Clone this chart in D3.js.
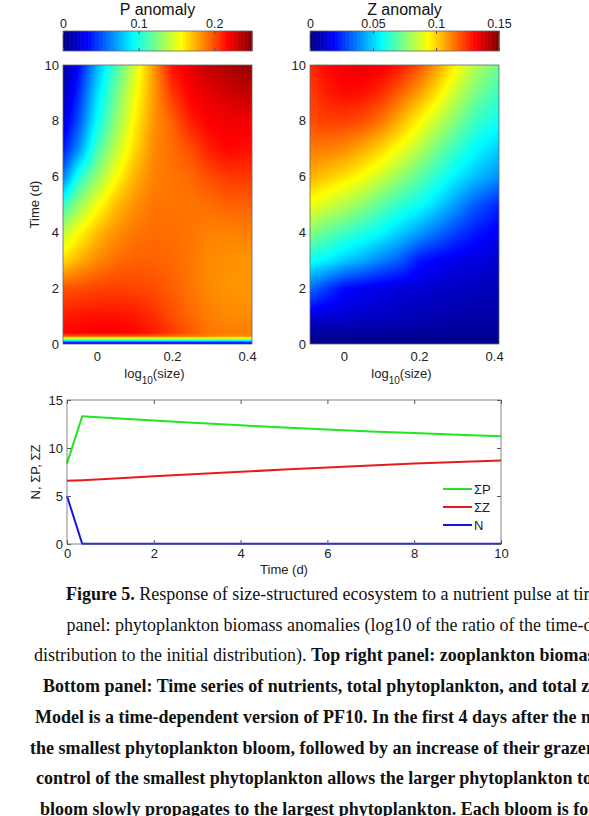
<!DOCTYPE html>
<html>
<head>
<meta charset="utf-8">
<script src="https://cdn.jsdelivr.net/npm/d3@7"></script>
<style>
  body { margin: 0; background: #fff; }
  svg { display: block; }
  .ax text { font-family: "Liberation Sans", Arial, sans-serif; font-size: 13px; fill: #222; }
  .ax line, .ax path { stroke: #555; }
  .cb text { font-size: 12.5px; }
</style>
</head>
<body>
<svg id="fig"></svg>
<script>
// ---- data ----
// log10(size) columns shared by both heatmaps
const sizeCols = [-0.09, -0.05, 0, 0.05, 0.1, 0.15, 0.2, 0.25, 0.3, 0.35, 0.413];

// P anomaly, rows by time (d)
const pTimes = [0, 0.05, 0.12, 0.2, 0.28, 0.4, 1, 2, 3, 4, 5, 6, 7, 8, 9, 10];
const pAnomaly = [
  [0.012, 0.012, 0.012, 0.012, 0.012, 0.012, 0.012, 0.012, 0.012, 0.012, 0.012],
  [0.035, 0.035, 0.035, 0.035, 0.035, 0.035, 0.035, 0.035, 0.035, 0.035, 0.035],
  [0.09, 0.09, 0.09, 0.09, 0.09, 0.09, 0.09, 0.09, 0.09, 0.09, 0.09],
  [0.15, 0.15, 0.15, 0.15, 0.15, 0.15, 0.15, 0.15, 0.15, 0.15, 0.15],
  [0.195, 0.195, 0.195, 0.195, 0.195, 0.193, 0.19, 0.188, 0.186, 0.185, 0.185],
  [0.218, 0.219, 0.22, 0.22, 0.218, 0.213, 0.205, 0.197, 0.19, 0.188, 0.188],
  [0.212, 0.214, 0.215, 0.215, 0.213, 0.208, 0.2, 0.193, 0.188, 0.185, 0.185],
  [0.198, 0.2, 0.202, 0.203, 0.202, 0.2, 0.196, 0.19, 0.185, 0.182, 0.182],
  [0.165, 0.175, 0.185, 0.192, 0.195, 0.195, 0.193, 0.19, 0.185, 0.183, 0.182],
  [0.14, 0.156, 0.172, 0.183, 0.19, 0.192, 0.192, 0.19, 0.187, 0.187, 0.188],
  [0.105, 0.13, 0.153, 0.172, 0.183, 0.19, 0.19, 0.19, 0.192, 0.195, 0.195],
  [0.06, 0.1, 0.13, 0.155, 0.175, 0.187, 0.19, 0.193, 0.2, 0.205, 0.205],
  [0.035, 0.065, 0.11, 0.14, 0.165, 0.185, 0.192, 0.2, 0.212, 0.218, 0.215],
  [0.02, 0.05, 0.094, 0.128, 0.158, 0.182, 0.195, 0.212, 0.22, 0.222, 0.222],
  [0.012, 0.04, 0.085, 0.12, 0.152, 0.18, 0.205, 0.22, 0.225, 0.23, 0.235],
  [0.008, 0.03, 0.075, 0.11, 0.145, 0.18, 0.215, 0.225, 0.235, 0.24, 0.245]
];

// Z anomaly, rows by time (d)
const zTimes = [0, 0.5, 1, 2, 3, 4, 5, 6, 7, 8, 9, 10];
const zAnomaly = [
  [0.001, 0.001, 0.001, 0.001, 0.001, 0.001, 0.001, 0.001, 0.001, 0.001, 0.001],
  [0.006, 0.006, 0.006, 0.0055, 0.005, 0.005, 0.0045, 0.0045, 0.004, 0.004, 0.004],
  [0.014, 0.013, 0.012, 0.011, 0.01, 0.009, 0.008, 0.007, 0.0065, 0.006, 0.006],
  [0.035, 0.028, 0.02, 0.017, 0.015, 0.013, 0.012, 0.011, 0.01, 0.009, 0.008],
  [0.058, 0.055, 0.049, 0.044, 0.038, 0.032, 0.022, 0.018, 0.015, 0.014, 0.012],
  [0.076, 0.071, 0.066, 0.061, 0.056, 0.049, 0.042, 0.035, 0.028, 0.022, 0.017],
  [0.092, 0.088, 0.083, 0.077, 0.07, 0.063, 0.058, 0.05, 0.041, 0.032, 0.024],
  [0.105, 0.102, 0.098, 0.093, 0.086, 0.078, 0.07, 0.062, 0.054, 0.047, 0.04],
  [0.113, 0.113, 0.111, 0.106, 0.1, 0.092, 0.083, 0.073, 0.064, 0.056, 0.049],
  [0.12, 0.122, 0.122, 0.12, 0.114, 0.105, 0.095, 0.085, 0.075, 0.065, 0.058],
  [0.122, 0.127, 0.13, 0.129, 0.125, 0.117, 0.108, 0.097, 0.085, 0.074, 0.065],
  [0.125, 0.13, 0.133, 0.135, 0.133, 0.128, 0.12, 0.108, 0.094, 0.083, 0.072]
];

const pTicks = [0, 0.1, 0.2];
const zTicks = [0, 0.05, 0.1, 0.15];
const sizeTicks = [0, 0.2, 0.4];
const timeTicks = [0, 2, 4, 6, 8, 10];

// bottom panel time series
const seriesTime = [0, 0.35, 1, 2, 3, 4, 5, 6, 7, 8, 9, 10];
const sumP = [8.4, 13.3, 13.13, 12.87, 12.6, 12.36, 12.13, 11.92, 11.72, 11.55, 11.38, 11.22];
const sumZ = [6.6, 6.65, 6.8, 7.05, 7.3, 7.52, 7.75, 7.97, 8.18, 8.38, 8.55, 8.7];
const nutrient = [5.0, 0.03, 0.03, 0.03, 0.03, 0.03, 0.03, 0.03, 0.03, 0.03, 0.03, 0.03];
const seriesNames = ["\u03A3P", "\u03A3Z", "N"];
const seriesColors = ["#22e622", "#e61c1c", "#1414e6"];

const captionLines = [
  [["Figure 5.", true], [" Response of size-structured ecosystem to a nutrient pulse at time 0. Top left", false]],
  [["panel: phytoplankton biomass anomalies (log10 of the ratio of the time-dependent", false]],
  [["distribution to the initial distribution). ", false], ["Top right panel: zooplankton biomass anomalies.", true]],
  [["Bottom panel: Time series of nutrients, total phytoplankton, and total zooplankton.", true]],
  [["Model is a time-dependent version of PF10. In the first 4 days after the nutrient pulse,", true]],
  [["the smallest phytoplankton bloom, followed by an increase of their grazers. The grazer", true]],
  [["control of the smallest phytoplankton allows the larger phytoplankton to bloom. The", true]],
  [["bloom slowly propagates to the largest phytoplankton. Each bloom is followed by", true]]
];

// ---- layout ----
const W = 589, H = 816;
const svg = d3.select("#fig").attr("width", W).attr("height", H);
svg.append("rect").attr("width", W).attr("height", H).attr("fill", "#fff");

function jet(v) {
  const c = x => Math.max(0, Math.min(1, x));
  const r = c(1.5 - Math.abs(4 * v - 3));
  const g = c(1.5 - Math.abs(4 * v - 2));
  const b = c(1.5 - Math.abs(4 * v - 1));
  return d3.rgb(r * 255, g * 255, b * 255);
}

function sampleGrid(cols, rows, grid, s, t) {
  let i = Math.max(0, Math.min(cols.length - 2, d3.bisectRight(cols, s) - 1));
  let j = Math.max(0, Math.min(rows.length - 2, d3.bisectRight(rows, t) - 1));
  const fx = Math.max(0, Math.min(1, (s - cols[i]) / (cols[i + 1] - cols[i])));
  const fy = Math.max(0, Math.min(1, (t - rows[j]) / (rows[j + 1] - rows[j])));
  const a = grid[j][i] * (1 - fx) + grid[j][i + 1] * fx;
  const b = grid[j + 1][i] * (1 - fx) + grid[j + 1][i + 1] * fx;
  return a * (1 - fy) + b * fy;
}

function heatPanel(cfg) {
  const { left, right, top, bottom, rows, grid, vmax, ticks, title, yLabel } = cfg;
  const x = d3.scaleLinear().domain([-0.09, 0.413]).range([left, right]);
  const y = d3.scaleLinear().domain([0, 10]).range([bottom, top]);
  const color = d3.scaleSequential(jet).domain([0, vmax]).clamp(true);

  // heatmap image
  const w = Math.round(right - left), h = Math.round(bottom - top);
  const canvas = document.createElement("canvas");
  canvas.width = w; canvas.height = h;
  const ctx = canvas.getContext("2d");
  const img = ctx.createImageData(w, h);
  for (let py = 0; py < h; py++) {
    const t = y.invert(top + py + 0.5);
    for (let px = 0; px < w; px++) {
      const s = x.invert(left + px + 0.5);
      const c = color(sampleGrid(sizeCols, rows, grid, s, t));
      const k = (py * w + px) * 4;
      img.data[k] = c.r; img.data[k + 1] = c.g; img.data[k + 2] = c.b; img.data[k + 3] = 255;
    }
  }
  ctx.putImageData(img, 0, 0);
  svg.append("image")
    .attr("x", left).attr("y", top)
    .attr("width", w).attr("height", h)
    .attr("preserveAspectRatio", "none")
    .attr("href", canvas.toDataURL());

  svg.append("rect")
    .attr("x", left).attr("y", top)
    .attr("width", right - left).attr("height", bottom - top)
    .attr("fill", "none").attr("stroke", "#666").attr("stroke-width", 0.8);

  const xAxis = svg.append("g").attr("class", "ax")
    .attr("transform", `translate(0,${bottom})`)
    .call(d3.axisBottom(x).tickValues(sizeTicks).tickFormat(d3.format("")).tickSize(0).tickPadding(8));
  xAxis.select(".domain").remove();

  const yAxis = svg.append("g").attr("class", "ax")
    .attr("transform", `translate(${left},0)`)
    .call(d3.axisLeft(y).tickValues(timeTicks).tickSize(0).tickPadding(4));
  yAxis.select(".domain").remove();

  const xl = svg.append("text")
    .attr("x", (left + right) / 2 - 3).attr("y", bottom + 34)
    .attr("text-anchor", "middle")
    .attr("font-family", "Liberation Sans, Arial, sans-serif")
    .attr("font-size", 13).attr("fill", "#222");
  xl.append("tspan").text("log");
  xl.append("tspan").attr("dy", 6).attr("font-size", 10).text("10");
  xl.append("tspan").attr("dy", -6).text("(size)");

  if (yLabel) {
    svg.append("text")
      .attr("transform", `translate(${left - 24},${(top + bottom) / 2}) rotate(-90)`)
      .attr("text-anchor", "middle")
      .attr("font-family", "Liberation Sans, Arial, sans-serif")
      .attr("font-size", 13).attr("fill", "#222")
      .text(yLabel);
  }

  // colorbar
  const cbTop = 31, cbBottom = 51;
  const cx = d3.scaleLinear().domain([0, vmax]).range([left, right]);
  const step = vmax / 240;
  svg.append("g").selectAll("rect")
    .data(d3.range(0, vmax, step))
    .join("rect")
    .attr("x", d => cx(d))
    .attr("y", cbTop)
    .attr("width", cx(step) - cx(0) + 0.6)
    .attr("height", cbBottom - cbTop)
    .attr("fill", d => color(d + step / 2));
  svg.append("rect")
    .attr("x", left).attr("y", cbTop)
    .attr("width", right - left).attr("height", cbBottom - cbTop)
    .attr("fill", "none").attr("stroke", "#666").attr("stroke-width", 0.8);

  const cbAxis = svg.append("g").attr("class", "ax cb")
    .attr("transform", `translate(0,${cbTop})`)
    .call(d3.axisTop(cx).tickValues(ticks).tickFormat(d3.format("")).tickSize(-3).tickPadding(3));
  cbAxis.select(".domain").remove();
  svg.append("g").attr("class", "ax")
    .attr("transform", `translate(0,${cbBottom})`)
    .call(d3.axisBottom(cx).tickValues(ticks).tickSize(-3).tickFormat(""))
    .select(".domain").remove();

  svg.append("text")
    .attr("x", (left + right) / 2).attr("y", 15)
    .attr("text-anchor", "middle")
    .attr("font-family", "Liberation Sans, Arial, sans-serif")
    .attr("font-size", 16).attr("fill", "#111")
    .text(title);
}

heatPanel({ left: 63, right: 252, top: 65, bottom: 344, rows: pTimes, grid: pAnomaly,
            vmax: 0.25, ticks: pTicks, title: "P anomaly", yLabel: "Time (d)" });
heatPanel({ left: 310, right: 499, top: 65, bottom: 344, rows: zTimes, grid: zAnomaly,
            vmax: 0.15, ticks: zTicks, title: "Z anomaly", yLabel: null });

// ---- bottom time series ----
const bl = 67, br = 501, bt = 400, bb = 544;
const tx = d3.scaleLinear().domain([0, 10]).range([bl, br]);
const ty = d3.scaleLinear().domain([0, 15]).range([bb, bt]);

const g = svg.append("g");
g.append("rect").attr("x", bl).attr("y", bt).attr("width", br - bl).attr("height", bb - bt)
  .attr("fill", "#fff");

const series = [sumP, sumZ, nutrient].map((vals, k) => ({
  name: seriesNames[k], color: seriesColors[k],
  points: vals.map((v, i) => [seriesTime[i], v])
}));

const line = d3.line().x(d => tx(d[0])).y(d => ty(d[1]));
g.selectAll(".series")
  .data(series)
  .join("path")
  .attr("class", "series")
  .attr("fill", "none")
  .attr("stroke", d => d.color)
  .attr("stroke-width", 2)
  .attr("stroke-linejoin", "round")
  .attr("d", d => line(d.points));

const bx = g.append("g").attr("class", "ax").attr("transform", `translate(0,${bb})`)
  .call(d3.axisBottom(tx).tickValues(timeTicks).tickSize(-4).tickPadding(5));
bx.select(".domain").remove();
g.append("g").attr("class", "ax").attr("transform", `translate(0,${bt})`)
  .call(d3.axisTop(tx).tickValues(timeTicks).tickSize(-4).tickFormat(""))
  .select(".domain").remove();
const by = g.append("g").attr("class", "ax").attr("transform", `translate(${bl},0)`)
  .call(d3.axisLeft(ty).tickValues([0, 5, 10, 15]).tickSize(-4).tickPadding(4));
by.select(".domain").remove();
g.append("g").attr("class", "ax").attr("transform", `translate(${br},0)`)
  .call(d3.axisRight(ty).tickValues([0, 5, 10, 15]).tickSize(-4).tickFormat(""))
  .select(".domain").remove();

g.append("rect").attr("x", bl).attr("y", bt).attr("width", br - bl).attr("height", bb - bt)
  .attr("fill", "none").attr("stroke", "#666").attr("stroke-width", 0.8);

g.append("text")
  .attr("x", (bl + br) / 2).attr("y", bb + 30)
  .attr("text-anchor", "middle")
  .attr("font-family", "Liberation Sans, Arial, sans-serif")
  .attr("font-size", 13).attr("fill", "#222")
  .text("Time (d)");
g.append("text")
  .attr("transform", `translate(${bl - 27},${(bt + bb) / 2}) rotate(-90)`)
  .attr("text-anchor", "middle")
  .attr("font-family", "Liberation Sans, Arial, sans-serif")
  .attr("font-size", 13).attr("fill", "#222")
  .text("N, \u03A3P, \u03A3Z");

// legend
const legend = g.append("g").attr("transform", `translate(443,489)`);
const item = legend.selectAll("g")
  .data(series)
  .join("g")
  .attr("transform", (d, i) => `translate(0,${i * 18})`);
item.append("line").attr("x1", 0).attr("x2", 29)
  .attr("stroke", d => d.color).attr("stroke-width", 2);
item.append("text").attr("x", 31).attr("dy", "0.35em")
  .attr("font-family", "Liberation Sans, Arial, sans-serif")
  .attr("font-size", 13).attr("fill", "#222")
  .text(d => d.name);

// ---- caption ----
const captionStart = [66, 66.5, 34, 43, 35, 30, 36, 40];
const cap = svg.append("g")
  .attr("font-family", "Liberation Serif, Times New Roman, serif")
  .attr("font-size", 18).attr("fill", "#111");
captionLines.forEach((parts, i) => {
  const t = cap.append("text").attr("x", captionStart[i]).attr("y", 600 + i * 30.7);
  parts.forEach(([txt, bold]) => {
    t.append("tspan").attr("font-weight", bold ? "bold" : "normal").text(txt);
  });
});
</script>
</body>
</html>
